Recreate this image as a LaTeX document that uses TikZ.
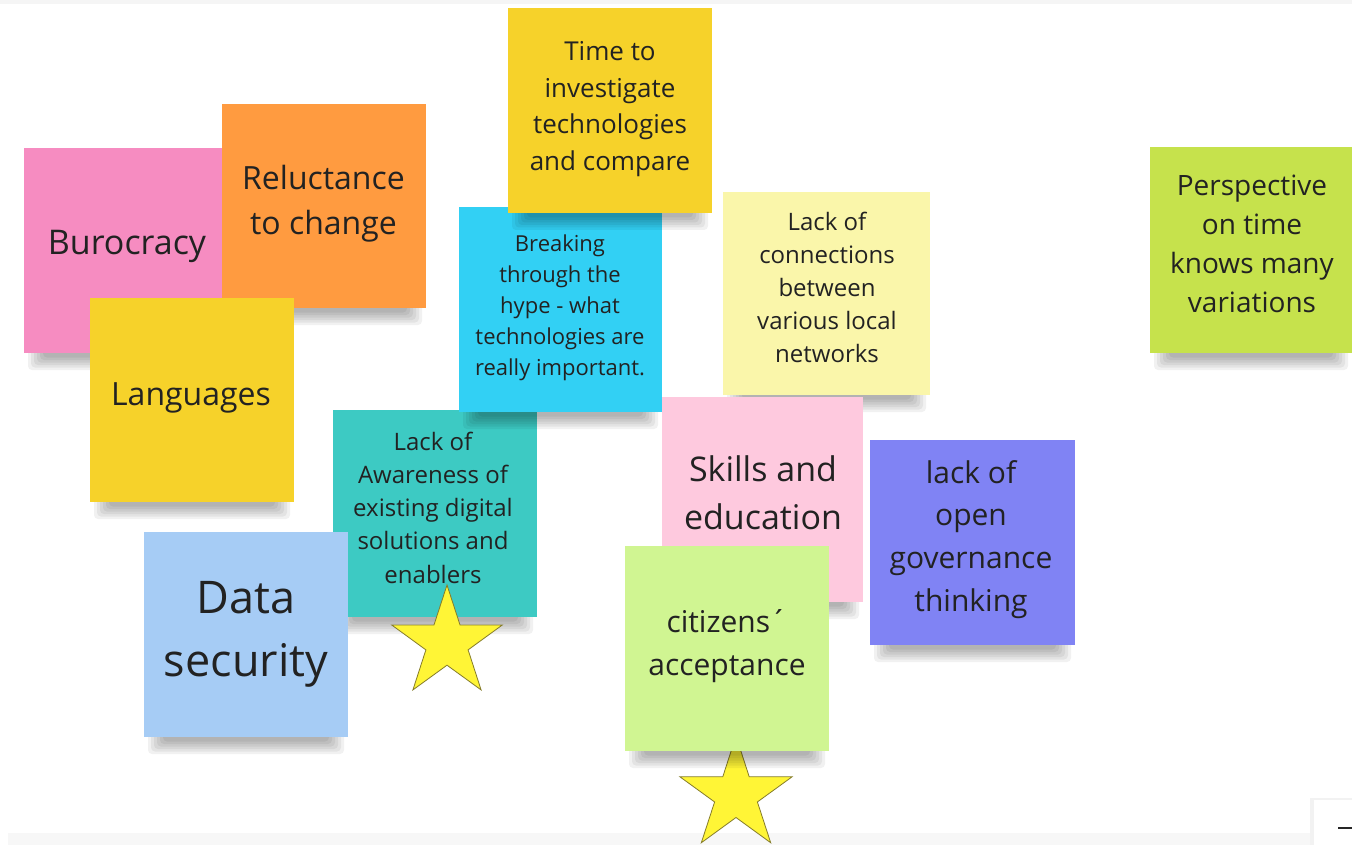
\documentclass[tikz,border=0pt]{standalone}
\usepackage{fontspec}
\setmainfont{Open Sans}
\usetikzlibrary{calc}
\definecolor{cBur}{HTML}{F68CC1}
\definecolor{cRel}{HTML}{FF9B40}
\definecolor{cYel}{HTML}{F6D22A}
\definecolor{cCya}{HTML}{32D0F4}
\definecolor{cLye}{HTML}{FAF6AA}
\definecolor{cLim}{HTML}{C6E24C}
\definecolor{cTea}{HTML}{3DCAC3}
\definecolor{cLpk}{HTML}{FEC9DE}
\definecolor{cVio}{HTML}{8083F4}
\definecolor{cBlu}{HTML}{A6CCF5}
\definecolor{cLgr}{HTML}{D0F592}
\definecolor{textdark}{HTML}{222222}
\definecolor{starfill}{HTML}{FFF536}
\definecolor{starline}{HTML}{857C2A}
\newcommand{\fsz}[2]{\fontsize{#1}{#2}\selectfont}
\tikzset{
  stickynote/.style={rectangle, draw=none, inner sep=0pt},
  stxt/.style={text=textdark, align=center, inner sep=0pt,
    execute at begin node=\strut, execute at end node=\strut},
  starsty/.style={fill=starfill, draw=starline, line width=0.8pt, line join=miter}
}
% name, colour, left, top, right, bottom
\newcommand{\mknote}[6]{%
  \foreach \k in {0,...,5}{%
    \fill[black, opacity=0.055, rounded corners=4pt]
      ({#3+4+3*\k},{#6-6}) rectangle ({#5-4-3*\k},{#6+17-2.5*\k});}%
  \node[stickynote, fill=#2, minimum width={(#5-#3)*1pt}, minimum height={(#6-#4)*1pt}]
    (#1) at ({(#3+#5)/2},{(#4+#6)/2}) {};%
}
\begin{document}
\begin{tikzpicture}[x=1pt, y=-1pt]
\useasboundingbox (0,0) rectangle (1352,845);
\fill[white] (0,0) rectangle (1352,845);
\fill[black!4] (0,0) rectangle (1352,4);
\fill[black!3] (8,833) rectangle (1352,845);

% left cluster
\mknote{bur}{cBur}{24}{148}{229}{353}
\node[stxt, font=\fsz{34}{48}] (burT) at (127,245) {Burocracy};
\mknote{rel}{cRel}{222}{104}{426}{308}
\node[stxt, font=\fsz{32}{45}] (relT) at (323.5,206.5) {Reluctance\\to change};
\mknote{lan}{cYel}{90}{298}{294}{502}
\node[stxt, font=\fsz{32}{45}] (lanT) at (191,396) {Languages};

% middle
\mknote{awa}{cTea}{333}{410}{537}{617}
\node[stxt, font=\fsz{24}{33.2}] (awaT) at (433,512.5) {Lack of\\Awareness of\\existing digital\\solutions and\\enablers};
\mknote{brk}{cCya}{459}{207}{662}{412}
\node[stxt, font=\fsz{22}{31}] (brkT) at (560,310) {Breaking\\through the\\hype - what\\technologies are\\really important.};
\mknote{tim}{cYel}{508}{8}{712}{213}
\node[stxt, font=\fsz{26}{36.4}] (timT) at (610,111.5) {Time to\\investigate\\technologies\\and compare};
\mknote{dat}{cBlu}{144}{532}{348}{737}
\node[stxt, font=\fsz{45}{63}] (datT) at (246,638) {Data\\security};

% star on Awareness
\coordinate (s1) at (447,643);
\draw[starsty, shift={(s1)}] (-90:58) -- (-54:22.2) -- (-18:58) -- (18:22.2) -- (54:58)
  -- (90:22.2) -- (126:58) -- (162:22.2) -- (198:58) -- (234:22.2) -- cycle;

% right-middle
\mknote{con}{cLye}{723}{192}{930}{395}
\node[stxt, font=\fsz{24}{33}] (conT) at (827,292) {Lack of\\connections\\between\\various local\\networks};
\mknote{skl}{cLpk}{662}{397}{863}{602}
\node[stxt, font=\fsz{34}{48}] (sklT) at (763,500) {Skills and\\education};
\mknote{gov}{cVio}{870}{440}{1075}{645}
\node[stxt, font=\fsz{30}{42.7}] (govT) at (971,542) {lack of\\open\\governance\\thinking};

% star under citizens
\coordinate (s2) at (736,795);
\draw[starsty, shift={(s2)}] (-90:59) -- (-54:22.5) -- (-18:59) -- (18:22.5) -- (54:59)
  -- (90:22.5) -- (126:59) -- (162:22.5) -- (198:59) -- (234:22.5) -- cycle;
\mknote{cit}{cLgr}{625}{546}{829}{751}
\node[stxt, font=\fsz{30}{43}] (citT) at (727,649) {citizens´\\acceptance};

% far right
\mknote{per}{cLim}{1150}{147}{1352}{353}
\node[stxt, font=\fsz{28}{38.7}] (perT) at (1252,249.5) {Perspective\\on time\\knows many\\variations};

% corner control
\fill[black!5] (1310,798) rectangle (1352,845);
\fill[white] (1314,800) rectangle (1352,845);
\draw[line width=1.6pt, black!85] (1338,828) -- (1352,828);
\end{tikzpicture}
\end{document}
